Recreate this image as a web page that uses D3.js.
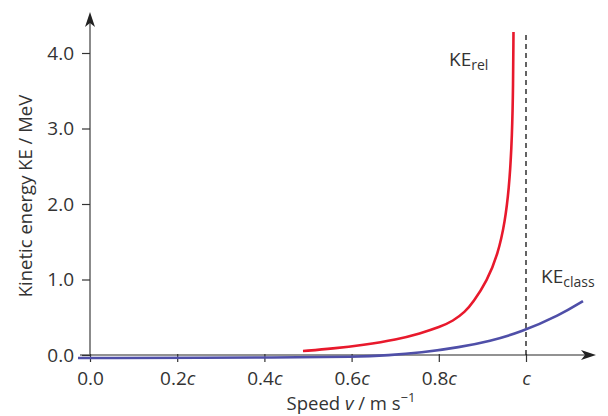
<!DOCTYPE html>
<html lang="en">
<head>
  <meta charset="utf-8">
  <title>Kinetic energy vs speed</title>
  <script src="https://d3js.org/d3.v7.min.js"></script>
  <style>
    body { margin: 0; background: #fff; }
    text { font-family: "Open Sans", "Noto Sans", sans-serif; fill: #333; }
  </style>
</head>
<body>
  <svg width="608" height="416"></svg>
  <script>
    // speed as fraction of c, KE in MeV
    var relSpeed = [0.4885, 0.5573, 0.6261, 0.7041, 0.7569, 0.8028, 0.8326, 0.8601, 0.8784, 0.9106, 0.9358, 0.9518, 0.961, 0.9667, 0.9702, 0.9713];
    var relKE    = [0.053, 0.086, 0.132, 0.205, 0.285, 0.371, 0.450, 0.570, 0.695, 0.980, 1.338, 1.762, 2.212, 2.715, 3.377, 4.278];

    var classSpeed = [-0.0275, 0.4817, 0.601, 0.688, 0.757, 0.8486, 0.9174, 0.9862, 1.078, 1.1307];
    var classKE    = [-0.040, -0.033, -0.026, -0.004, 0.029, 0.103, 0.185, 0.298, 0.530, 0.715];

    var xTicks = [0, 0.2, 0.4, 0.6, 0.8, 1.0];
    var xTickLabels = ["0.0", "0.2", "0.4", "0.6", "0.8", ""];
    var yTicks = [0, 1, 2, 3, 4];

    var svg = d3.select("svg");
    var x = d3.scaleLinear().domain([0, 1]).range([90, 526]);
    var y = d3.scaleLinear().domain([0, 4]).range([355, 53]);

    var axisColor = "#6e6e6e";

    // y axis line + arrow
    svg.append("line")
      .attr("x1", x(0)).attr("x2", x(0))
      .attr("y1", y(0)).attr("y2", 22)
      .attr("stroke", axisColor).attr("stroke-width", 1.6);
    svg.append("path")
      .attr("d", "M" + x(0) + ",12 L" + (x(0) - 5) + ",27 L" + x(0) + ",23 L" + (x(0) + 5) + ",27 Z")
      .attr("fill", "#222");

    // x axis line + arrow
    svg.append("line")
      .attr("x1", 80).attr("x2", 585)
      .attr("y1", y(0)).attr("y2", y(0))
      .attr("stroke", axisColor).attr("stroke-width", 1.6);
    svg.append("path")
      .attr("d", "M596," + y(0) + " L581," + (y(0) - 5) + " L585," + y(0) + " L581," + (y(0) + 5) + " Z")
      .attr("fill", "#222");

    // y ticks
    var yAxis = d3.axisLeft(y).tickValues(yTicks).tickSize(8).tickPadding(8)
      .tickFormat(d3.format(".1f"));
    var gy = svg.append("g").attr("transform", "translate(" + x(0) + ",0)").call(yAxis);
    gy.select(".domain").remove();
    gy.selectAll(".tick line").attr("stroke", "#333").attr("stroke-width", 1.2);
    gy.selectAll(".tick text").attr("font-size", 19).attr("fill", "#333")
      .style("font-family", "'Open Sans', sans-serif");

    // x ticks
    var xAxis = d3.axisBottom(x).tickValues(xTicks).tickSize(8).tickPadding(7).tickFormat("");
    var gx = svg.append("g").attr("transform", "translate(0," + (y(0) - 1) + ")").call(xAxis);
    gx.select(".domain").remove();
    gx.selectAll(".tick line").attr("stroke", "#333").attr("stroke-width", 1.2);
    gx.selectAll(".tick").each(function(d, i) {
      var t = d3.select(this).append("text")
        .attr("y", 31).attr("text-anchor", "middle")
        .attr("font-size", 19).attr("fill", "#333");
      t.append("tspan").text(xTickLabels[i]);
      if (i > 0) t.append("tspan").attr("font-style", "italic").text("c");
    });

    // dashed line at c
    svg.append("line")
      .attr("x1", x(1)).attr("x2", x(1))
      .attr("y1", 35).attr("y2", y(0))
      .attr("stroke", "#222").attr("stroke-width", 1.4)
      .attr("stroke-dasharray", "5,4");

    var line = d3.line().x(d => x(d[0])).y(d => y(d[1])).curve(d3.curveBasis);

    svg.append("path")
      .datum(d3.zip(classSpeed, classKE))
      .attr("d", line)
      .attr("fill", "none").attr("stroke", "#4f4fa8").attr("stroke-width", 2.6);

    svg.append("path")
      .datum(d3.zip(relSpeed, relKE))
      .attr("d", line)
      .attr("fill", "none").attr("stroke", "#e8192c").attr("stroke-width", 2.6);

    // curve labels
    var l1 = svg.append("text").attr("x", 449).attr("y", 66).attr("font-size", 19);
    l1.append("tspan").text("KE");
    l1.append("tspan").attr("font-size", 14).attr("dy", 4).text("rel");

    var l2 = svg.append("text").attr("x", 541).attr("y", 283).attr("font-size", 19);
    l2.append("tspan").text("KE");
    l2.append("tspan").attr("font-size", 14).attr("dy", 4).text("class");

    // axis titles
    svg.append("text")
      .attr("transform", "translate(32,196) rotate(-90)")
      .attr("text-anchor", "middle").attr("font-size", 18.5)
      .text("Kinetic energy KE / MeV");

    var xt = svg.append("text").attr("x", 351).attr("y", 410)
      .attr("text-anchor", "middle").attr("font-size", 18.5);
    xt.append("tspan").text("Speed ");
    xt.append("tspan").attr("font-style", "italic").text("v");
    xt.append("tspan").text(" / m s");
    xt.append("tspan").attr("font-size", 13).attr("dy", -8).text("\u22121");
  </script>
</body>
</html>
